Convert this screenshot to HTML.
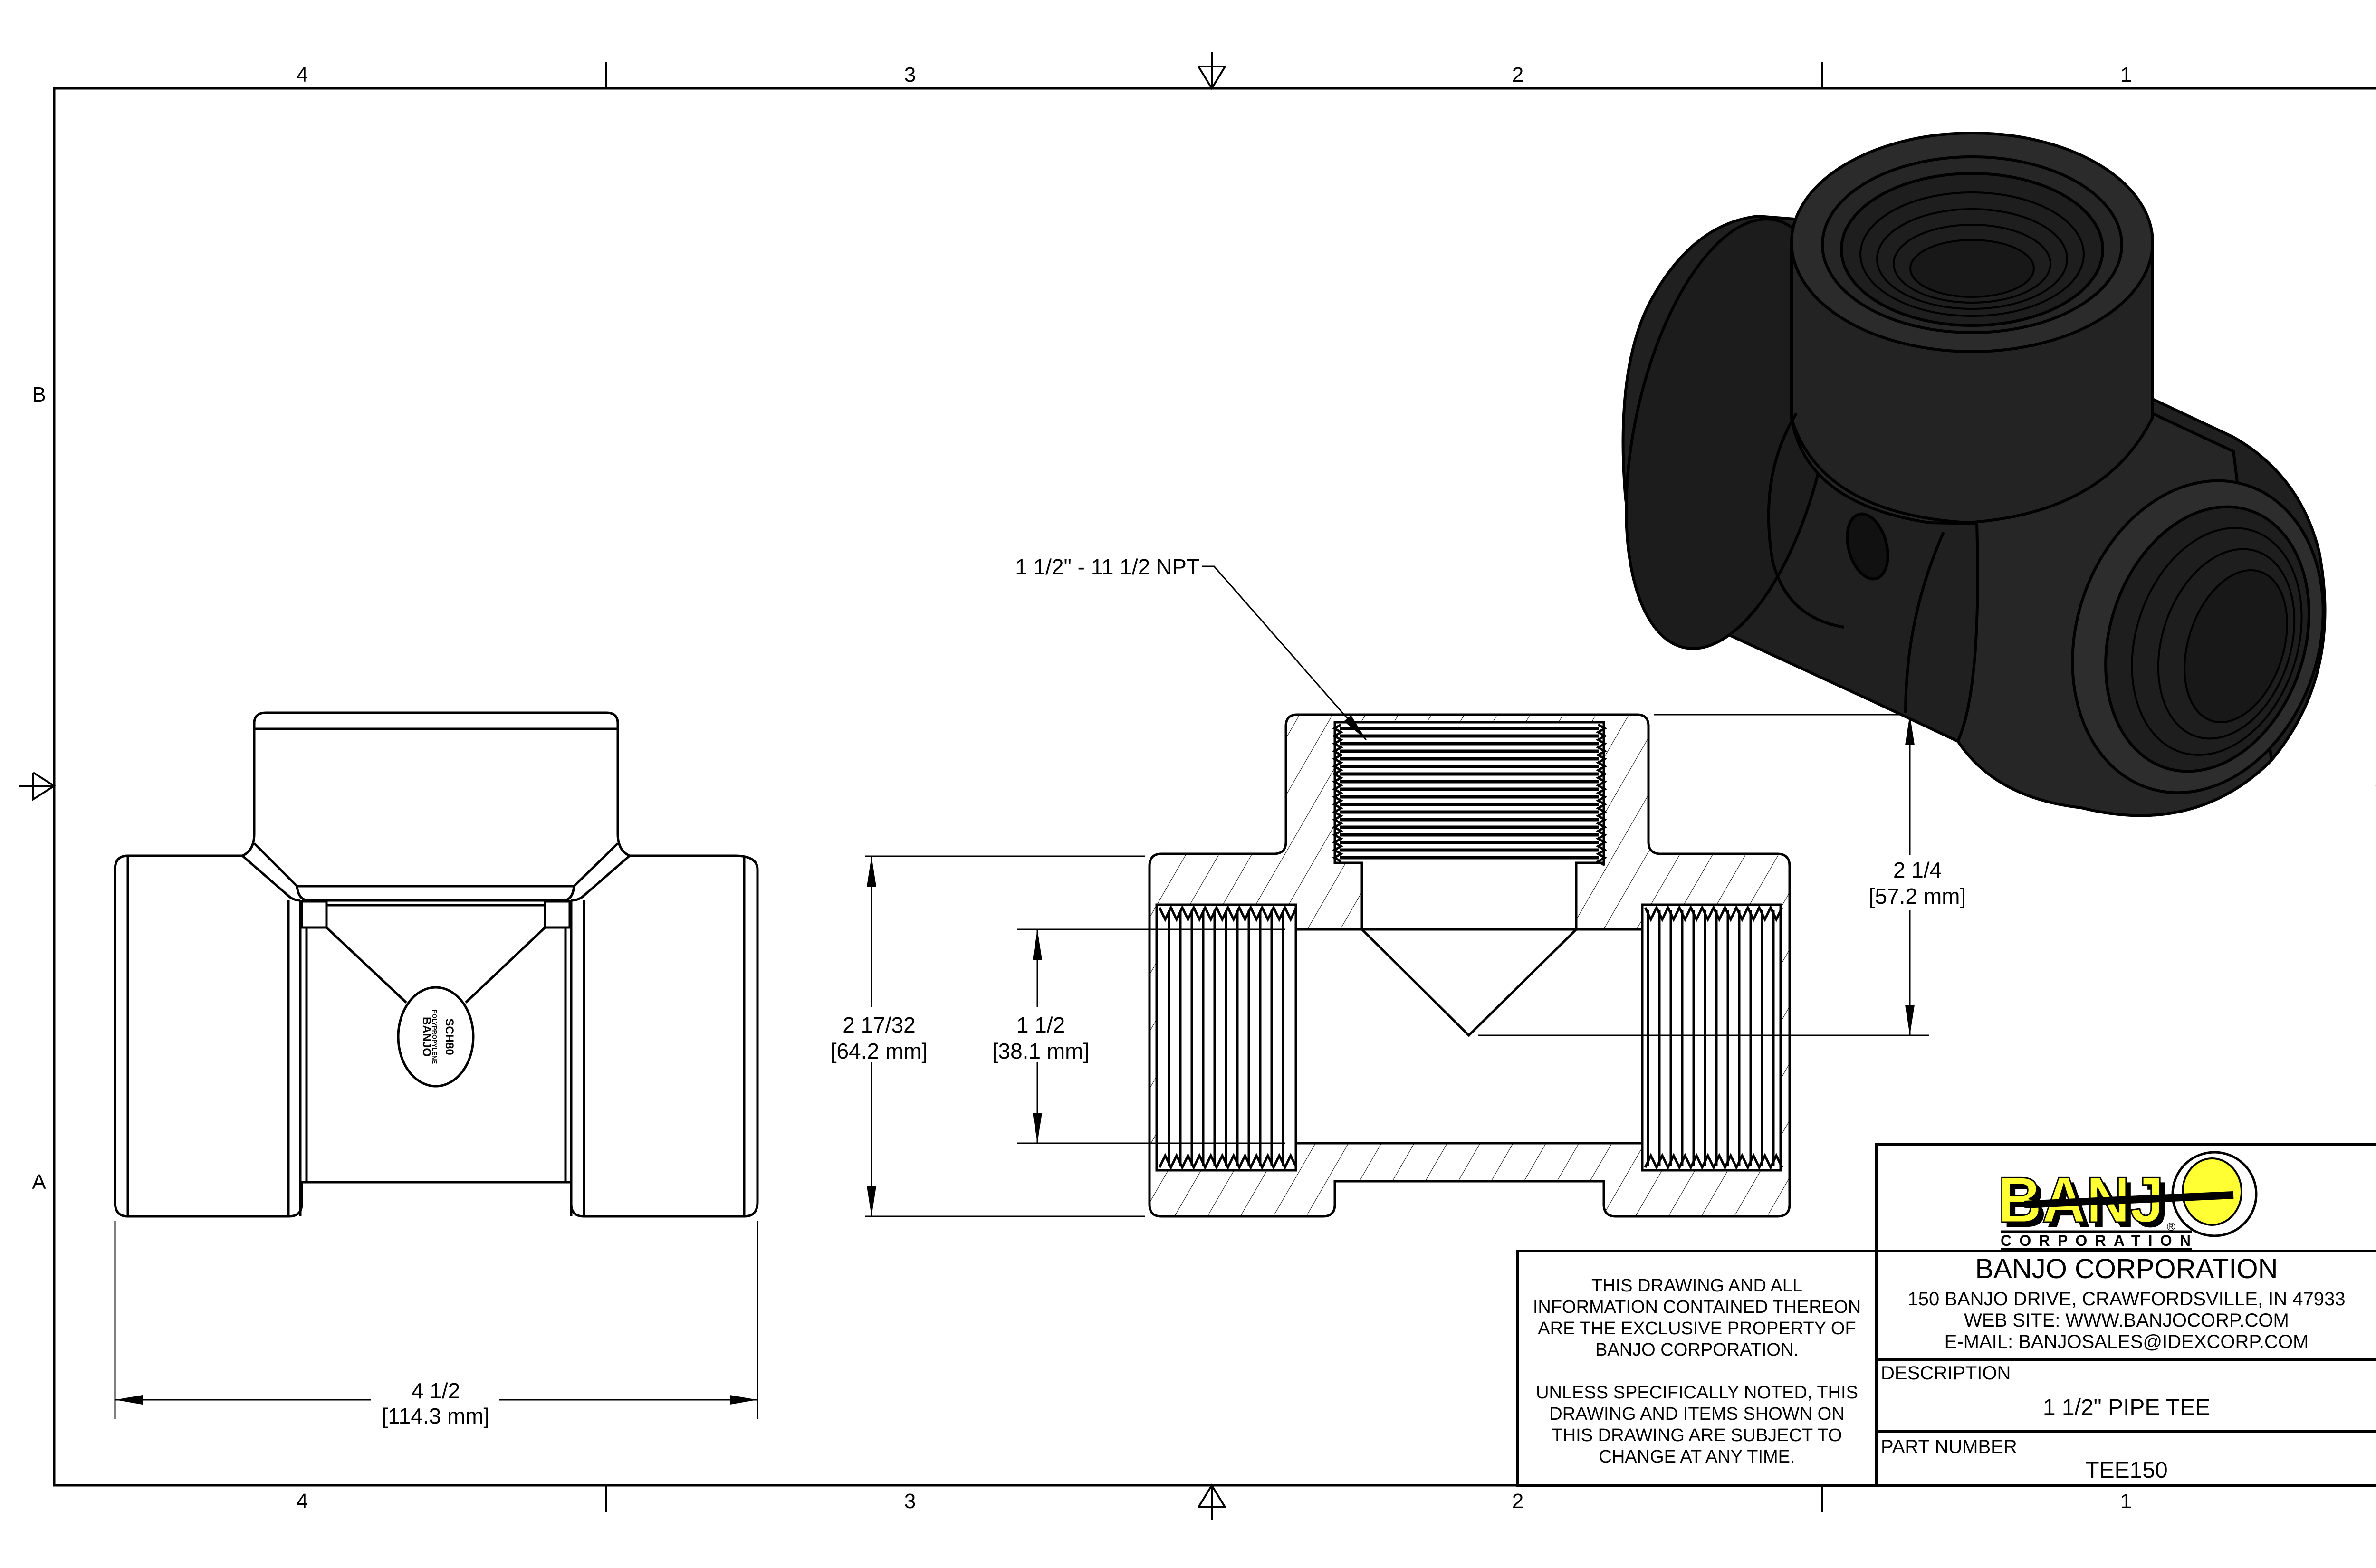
<!DOCTYPE html>
<html><head><meta charset="utf-8"><style>
html,body{margin:0;padding:0;background:#fff;width:5100px;height:3300px;overflow:hidden}
svg{display:block}
text{font-family:"Liberation Sans",Arial,sans-serif;fill:#000}
</style></head><body>
<svg width="5100" height="3300" viewBox="0 0 5100 3300" xmlns="http://www.w3.org/2000/svg">
<defs>
<pattern id="hatch" patternUnits="userSpaceOnUse" width="60" height="60" patternTransform="rotate(30)">
<line x1="0" y1="0" x2="0" y2="60" stroke="#000" stroke-width="2"/>
</pattern>
<pattern id="vth" patternUnits="userSpaceOnUse" width="24" height="40">
<line x1="12" y1="0" x2="12" y2="40" stroke="#000" stroke-width="5"/>
</pattern>
<pattern id="hth" patternUnits="userSpaceOnUse" width="40" height="16" y="1525">
<line x1="0" y1="8" x2="40" y2="8" stroke="#000" stroke-width="7"/>
</pattern>
</defs>

<!-- Border -->
<rect x="114" y="186" width="4888" height="2940" fill="none" stroke="#000" stroke-width="5"/>
<g stroke="#000" stroke-width="4">
<line x1="1276" y1="130" x2="1276" y2="186"/><line x1="3834" y1="130" x2="3834" y2="186"/>
<line x1="1276" y1="3126" x2="1276" y2="3182"/><line x1="3834" y1="3126" x2="3834" y2="3182"/>
<line x1="2550" y1="110" x2="2550" y2="186"/>
<polyline points="2522,140 2578,140 2550,186 2522,140" fill="none"/>
<line x1="2550" y1="3126" x2="2550" y2="3200"/>
<polyline points="2522,3172 2578,3172 2550,3126 2522,3172" fill="none"/>
<line x1="40" y1="1654" x2="114" y2="1654"/>
<polyline points="70,1626 70,1682 114,1654 70,1626" fill="none"/>
<line x1="5002" y1="1654" x2="5076" y2="1654"/>
<polyline points="5046,1626 5046,1682 5002,1654 5046,1626" fill="none"/>
</g>
<g font-size="44" text-anchor="middle">
<text x="636" y="172">4</text><text x="1915" y="172">3</text><text x="3194" y="172">2</text><text x="4474" y="172">1</text>
<text x="636" y="3174">4</text><text x="1915" y="3174">3</text><text x="3194" y="3174">2</text><text x="4474" y="3174">1</text>
<text x="82" y="845">B</text><text x="5032" y="845">B</text>
<text x="82" y="2502">A</text><text x="5032" y="2502">A</text>
</g>

<!-- Front view -->
<g fill="none" stroke="#000" stroke-width="5" stroke-linejoin="round">
<path d="M560,1500 L1276,1500 Q1300,1500 1300,1522 L1300,1755 Q1300,1790 1325,1801 L1546,1801 Q1594,1801 1594,1830 L1594,2530 Q1594,2560 1566,2560 L1229,2560 Q1202,2560 1202,2534 L1202,2488 L635,2488 L635,2534 Q635,2560 607,2560 L269,2560 Q242,2560 242,2530 L242,1830 Q242,1801 269,1801 L510,1801 Q535,1790 535,1755 L535,1522 Q535,1500 560,1500 Z"/>
<line x1="535" y1="1534" x2="1300" y2="1534"/>
<line x1="269" y1="1801" x2="269" y2="2560"/><line x1="1566" y1="1801" x2="1566" y2="2560"/>
<line x1="607" y1="1895" x2="607" y2="2560"/><line x1="632" y1="1895" x2="632" y2="2560"/>
<line x1="1202" y1="1895" x2="1202" y2="2560"/><line x1="1229" y1="1895" x2="1229" y2="2560"/>
<path d="M510,1801 L610,1888 Q620,1895 632,1895"/>
<path d="M535,1775 L625,1865 L1208,1865 L1300,1775"/>
<path d="M1325,1801 L1225,1888 Q1215,1895 1202,1895"/>
<path d="M625,1865 Q628,1895 650,1895 L1185,1895 Q1205,1895 1208,1865"/>
<rect x="635" y="1897" width="52" height="55"/><rect x="1147" y="1897" width="52" height="55"/>
<line x1="645" y1="1952" x2="645" y2="2488"/><line x1="1190" y1="1952" x2="1190" y2="2488"/>
<line x1="687" y1="1905" x2="1147" y2="1905"/>
<line x1="687" y1="1952" x2="855" y2="2110"/><line x1="1147" y1="1952" x2="980" y2="2110"/>
<ellipse cx="917" cy="2182" rx="79" ry="104"/>
</g>
<g font-size="24" font-weight="bold" text-anchor="middle">
<text transform="translate(890,2182) rotate(90)">BANJO</text>
<text transform="translate(910,2182) rotate(90)" font-size="13">POLYPROPYLENE</text>
<text transform="translate(938,2182) rotate(90)">SCH80</text>
</g>
<!-- 4 1/2 dim -->
<g stroke="#000" stroke-width="3">
<line x1="242" y1="2570" x2="242" y2="2987"/><line x1="1594" y1="2570" x2="1594" y2="2987"/>
<line x1="242" y1="2946" x2="780" y2="2946"/><line x1="1050" y1="2946" x2="1594" y2="2946"/>
</g>
<polygon points="242,2946 300,2936 300,2956"/><polygon points="1594,2946 1536,2936 1536,2956"/>
<g font-size="46" text-anchor="middle"><text x="917" y="2943">4 1/2</text><text x="917" y="2996">[114.3 mm]</text></g>

<!-- Section view -->
<path fill="url(#hatch)" stroke="#000" stroke-width="5" fill-rule="evenodd" d="M2730,1504 L3445,1504 Q3469,1504 3469,1528 L3469,1772 Q3469,1797 3495,1797 L3740,1797 Q3766,1797 3766,1823 L3766,2535 Q3766,2560 3740,2560 L3400,2560 Q3375,2560 3375,2535 L3375,2486 L2809,2486 L2809,2535 Q2809,2560 2784,2560 L2444,2560 Q2419,2560 2419,2535 L2419,1823 Q2419,1797 2444,1797 L2680,1797 Q2706,1797 2706,1772 L2706,1528 Q2706,1504 2730,1504 Z
M2809,1520 L3375,1520 L3375,1816 L3317,1816 L3317,1956 L3456,1956 L3456,1904 L3747,1904 L3747,2463 L3456,2463 L3456,2406 L2727,2406 L2727,2463 L2434,2463 L2434,1904 L2727,1904 L2727,1956 L2866,1956 L2866,1816 L2809,1816 Z"/>
<rect x="2820" y="1525" width="545" height="288" fill="url(#hth)"/>
<rect x="2440" y="1915" width="282" height="540" fill="url(#vth)"/>
<rect x="3462" y="1915" width="282" height="540" fill="url(#vth)"/>
<g fill="none" stroke="#000" stroke-width="5">
<path d="M2866,1816 L2866,1956 L3091,2179 L3317,1956 L3317,1816"/>
<line x1="2727" y1="1956" x2="3456" y2="1956"/>
<line x1="2727" y1="2406" x2="3456" y2="2406"/>
<line x1="2434" y1="1904" x2="2434" y2="2463"/><line x1="2727" y1="1904" x2="2727" y2="2463"/>
<line x1="3456" y1="1904" x2="3456" y2="2463"/><line x1="3747" y1="1904" x2="3747" y2="2463"/>
<path d="M2440,1910 l12,25 l12,-25 l12,25 l12,-25 l12,25 l12,-25 l12,25 l12,-25 l12,25 l12,-25 l12,25 l12,-25 l12,25 l12,-25 l12,25 l12,-25 l12,25 l12,-25 l12,25 l12,-25 l12,25 l12,-25 l12,25 l12,-25"/>
<path d="M2440,2457 l12,-25 l12,25 l12,-25 l12,25 l12,-25 l12,25 l12,-25 l12,25 l12,-25 l12,25 l12,-25 l12,25 l12,-25 l12,25 l12,-25 l12,25 l12,-25 l12,25 l12,-25 l12,25 l12,-25 l12,25 l12,-25 l12,25"/>
<path d="M3462,1910 l12,25 l12,-25 l12,25 l12,-25 l12,25 l12,-25 l12,25 l12,-25 l12,25 l12,-25 l12,25 l12,-25 l12,25 l12,-25 l12,25 l12,-25 l12,25 l12,-25 l12,25 l12,-25 l12,25 l12,-25 l12,25 l12,-25"/>
<path d="M3462,2457 l12,-25 l12,25 l12,-25 l12,25 l12,-25 l12,25 l12,-25 l12,25 l12,-25 l12,25 l12,-25 l12,25 l12,-25 l12,25 l12,-25 l12,25 l12,-25 l12,25 l12,-25 l12,25 l12,-25 l12,25 l12,-25 l12,25"/>
<path d="M2822,1525 l-14,8 l14,8 l-14,8 l14,8 l-14,8 l14,8 l-14,8 l14,8 l-14,8 l14,8 l-14,8 l14,8 l-14,8 l14,8 l-14,8 l14,8 l-14,8 l14,8 l-14,8 l14,8 l-14,8 l14,8 l-14,8 l14,8 l-14,8 l14,8 l-14,8 l14,8 l-14,8 l14,8 l-14,8 l14,8 l-14,8 l14,8 l-14,8 l14,8"/>
<path d="M3363,1525 l14,8 l-14,8 l14,8 l-14,8 l14,8 l-14,8 l14,8 l-14,8 l14,8 l-14,8 l14,8 l-14,8 l14,8 l-14,8 l14,8 l-14,8 l14,8 l-14,8 l14,8 l-14,8 l14,8 l-14,8 l14,8 l-14,8 l14,8 l-14,8 l14,8 l-14,8 l14,8 l-14,8 l14,8 l-14,8 l14,8 l-14,8 l14,8 l-14,8 l14,8"/>
</g>
<!-- section dims -->
<g stroke="#000" stroke-width="3" fill="none">
<line x1="1820" y1="1802" x2="2410" y2="1802"/><line x1="1820" y1="2560" x2="2410" y2="2560"/>
<line x1="1834" y1="1802" x2="1834" y2="2120"/><line x1="1834" y1="2235" x2="1834" y2="2560"/>
<line x1="2141" y1="1956" x2="2705" y2="1956"/><line x1="2141" y1="2406" x2="2705" y2="2406"/>
<line x1="2183" y1="1956" x2="2183" y2="2120"/><line x1="2183" y1="2235" x2="2183" y2="2406"/>
<line x1="3480" y1="1504" x2="4059" y2="1504"/><line x1="3110" y1="2179" x2="4059" y2="2179"/>
<line x1="4019" y1="1504" x2="4019" y2="1800"/><line x1="4019" y1="1915" x2="4019" y2="2179"/>
<polyline points="2530,1192 2555,1192 2875,1557"/>
</g>
<g>
<polygon points="1834,1802 1824,1866 1844,1866"/><polygon points="1834,2560 1824,2496 1844,2496"/>
<polygon points="2183,1956 2173,2020 2193,2020"/><polygon points="2183,2406 2173,2342 2193,2342"/>
<polygon points="4019,1504 4009,1568 4029,1568"/><polygon points="4019,2179 4009,2115 4029,2115"/>
<polygon points="2875,1557 2843,1505 2828,1518"/>
</g>
<g font-size="46" text-anchor="middle">
<text x="1850" y="2173">2 17/32</text><text x="1850" y="2228">[64.2 mm]</text>
<text x="2190" y="2173">1 1/2</text><text x="2190" y="2228">[38.1 mm]</text>
<text x="4035" y="1847">2 1/4</text><text x="4035" y="1902">[57.2 mm]</text>
<text x="2525" y="1209" text-anchor="end">1 1/2" - 11 1/2 NPT</text>
</g>

<!-- 3D view -->
<g stroke="#000" stroke-width="6">
<path fill="#202020" d="M3700,455 Q3560,470 3470,640 Q3400,780 3420,1040 Q3440,1240 3560,1300 L3950,1480 L4120,1560 Q4200,1650 4380,1700 Q4620,1760 4780,1600 Q4930,1420 4880,1160 Q4840,1000 4700,920 L4530,840 L4529,520 Z"/>
<ellipse cx="3640" cy="913" rx="200" ry="460" transform="rotate(12 3640 913)" fill="#1c1c1c"/>
<path fill="#262626" d="M3770,520 L3770,880 Q3800,1060 4060,1100 L4160,1102 Q4170,1450 4120,1560 Q4200,1680 4380,1700 Q4620,1760 4780,1600 L4700,950 L4529,870 L4529,520 Z"/>
<path fill="#232323" d="M3770,520 L3770,880 Q3830,1080 4140,1100 Q4430,1080 4529,880 L4529,520 Z"/>
<ellipse cx="4150" cy="510" rx="380" ry="230" fill="#2b2b2b"/>
<ellipse cx="4150" cy="515" rx="315" ry="185" fill="#262626"/>
<ellipse cx="4150" cy="525" rx="275" ry="160" fill="#1e1e1e"/>
<ellipse cx="4150" cy="535" rx="235" ry="130" fill="none" stroke-width="4"/>
<ellipse cx="4150" cy="545" rx="200" ry="105" fill="none" stroke-width="4"/>
<ellipse cx="4150" cy="555" rx="165" ry="82" fill="none" stroke-width="4"/>
<ellipse cx="4150" cy="565" rx="130" ry="60" fill="#181818" stroke-width="4"/>
<ellipse cx="4625" cy="1340" rx="255" ry="335" transform="rotate(18 4625 1340)" fill="#2d2d2d"/>
<ellipse cx="4645" cy="1345" rx="205" ry="285" transform="rotate(18 4645 1345)" fill="#1e1e1e"/>
<ellipse cx="4665" cy="1350" rx="170" ry="245" transform="rotate(18 4665 1350)" fill="none" stroke-width="4"/>
<ellipse cx="4685" cy="1355" rx="135" ry="205" transform="rotate(18 4685 1355)" fill="none" stroke-width="4"/>
<ellipse cx="4705" cy="1360" rx="100" ry="165" transform="rotate(18 4705 1360)" fill="#181818" stroke-width="4"/>
<path fill="none" d="M4090,1120 Q4010,1300 4010,1500"/>
<path fill="none" d="M3780,870 Q3700,1000 3730,1180 Q3760,1300 3880,1320"/>
<ellipse cx="3930" cy="1150" rx="40" ry="70" transform="rotate(-15 3930 1150)" fill="#111"/>
</g>

<!-- Title block -->
<rect x="3948" y="2408" width="1054" height="718" fill="#fff"/>
<rect x="3194" y="2633" width="754" height="493" fill="#fff"/>
<g fill="none" stroke="#000" stroke-width="6">
<rect x="3948" y="2408" width="1054" height="718"/>
<rect x="3194" y="2633" width="754" height="493"/>
<line x1="3948" y1="2633" x2="5002" y2="2633"/>
<line x1="3948" y1="2862" x2="5002" y2="2862"/>
<line x1="3948" y1="3012" x2="5002" y2="3012"/>
</g>
<!-- logo -->
<circle cx="4660" cy="2513" r="88" fill="#fff" stroke="#000" stroke-width="5"/>
<ellipse cx="4655" cy="2508" rx="62" ry="70" fill="#ffff33" stroke="#000" stroke-width="4"/>
<text x="4214" y="2582" font-size="136" font-weight="bold" fill="#000" textLength="350" lengthAdjust="spacingAndGlyphs">BANJ</text>
<text x="4204" y="2572" font-size="136" font-weight="bold" style="fill:#ffff33;stroke:#000;stroke-width:3" textLength="350" lengthAdjust="spacingAndGlyphs">BANJ</text>
<line x1="4260" y1="2535" x2="4700" y2="2515" stroke="#000" stroke-width="16"/>
<text x="4560" y="2590" font-size="24">®</text>
<line x1="4210" y1="2592" x2="4612" y2="2592" stroke="#000" stroke-width="5"/>
<text x="4210" y="2622" font-size="32" font-weight="bold" textLength="400" lengthAdjust="spacing">CORPORATION</text>
<line x1="4210" y1="2628" x2="4612" y2="2628" stroke="#000" stroke-width="4"/>
<g text-anchor="middle">
<text x="4475" y="2690" font-size="58">BANJO CORPORATION</text>
<text x="4475" y="2747" font-size="40">150 BANJO DRIVE, CRAWFORDSVILLE, IN 47933</text>
<text x="4475" y="2792" font-size="40">WEB SITE: WWW.BANJOCORP.COM</text>
<text x="4475" y="2837" font-size="40">E-MAIL: BANJOSALES@IDEXCORP.COM</text>
<text x="4475" y="2978" font-size="48">1 1/2" PIPE TEE</text>
<text x="4475" y="3110" font-size="48">TEE150</text>
<g font-size="38">
<text x="3571" y="2718">THIS DRAWING AND ALL</text>
<text x="3571" y="2763">INFORMATION CONTAINED THEREON</text>
<text x="3571" y="2808">ARE THE EXCLUSIVE PROPERTY OF</text>
<text x="3571" y="2853">BANJO CORPORATION.</text>
<text x="3571" y="2943">UNLESS SPECIFICALLY NOTED, THIS</text>
<text x="3571" y="2988">DRAWING AND ITEMS SHOWN ON</text>
<text x="3571" y="3033">THIS DRAWING ARE SUBJECT TO</text>
<text x="3571" y="3078">CHANGE AT ANY TIME.</text>
</g>
</g>
<text x="3958" y="2903" font-size="40">DESCRIPTION</text>
<text x="3958" y="3058" font-size="40">PART NUMBER</text>
</svg>
</body></html>
